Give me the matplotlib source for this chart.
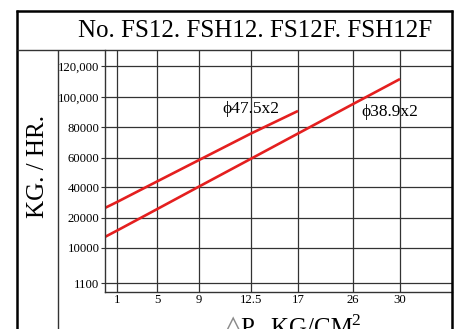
import numpy as np
import matplotlib
matplotlib.use("Agg")
import matplotlib.pyplot as plt
from matplotlib.lines import Line2D

# ---------------- data ----------------
dp_ticks = [1, 5, 9, 12.5, 17, 26, 30]
dp_labels = ["1", "5", "9", "12.5", "17", "26", "30"]
kg_ticks = [1100, 10000, 20000, 40000, 60000, 80000, 100000, 120000]
kg_labels = ["1100", "10000", "20000", "40000", "60000", "80000", "100,000", "120,000"]

dp_475 = [0, 1, 5, 9, 12.5, 17]
kg_475 = [26500, 30300, 43800, 58600, 75800, 90700]
dp_389 = [0, 1, 5, 9, 12.5, 17, 26, 30]
kg_389 = [13700, 15800, 25700, 40300, 59500, 75800, 95300, 111600]

title = "No. FS12. FSH12. FS12F. FSH12F"
ylabel = "KG. / HR."
series_names = ["\u03d547.5x2", "\u03d538.9x2"]

# ---------------- layout (pixel positions on the chart's graph paper) ----------------
dp_pos = [0, 12, 52, 94, 146, 193, 248, 295]
kg_pos = [0, 9, 44, 74, 105, 134, 165, 195, 226]

W, H, DPI = 457, 329, 100
SERIF = ["Liberation Serif", "DejaVu Serif"]
plt.rcParams["font.family"] = SERIF


def piecewise(xs, ys):
    xs = np.asarray(xs, float)
    ys = np.asarray(ys, float)

    def f(v):
        v = np.asarray(v, float)
        out = np.interp(v, xs, ys)
        lo = ys[0] + (v - xs[0]) * (ys[1] - ys[0]) / (xs[1] - xs[0])
        hi = ys[-1] + (v - xs[-1]) * (ys[-1] - ys[-2]) / (xs[-1] - xs[-2])
        out = np.where(v < xs[0], lo, out)
        out = np.where(v > xs[-1], hi, out)
        return out
    return f


x_vals = [0] + dp_ticks
y_vals = [0] + kg_ticks
fx, ix = piecewise(x_vals, dp_pos), piecewise(dp_pos, x_vals)
fy, iy = piecewise(y_vals, kg_pos), piecewise(kg_pos, y_vals)

fig = plt.figure(figsize=(W / DPI, H / DPI), dpi=DPI)
fig.patch.set_facecolor("white")

L, R, T, B = 105, 452, 50, 292
ax = fig.add_axes([L / W, (H - B) / H, (R - L) / W, (B - T) / H])
ax.set_xscale("function", functions=(fx, ix))
ax.set_yscale("function", functions=(fy, iy))
ax.set_xlim(0, float(ix(R - L)))
ax.set_ylim(0, float(iy(B - T)))

grid_c = "#333333"
ax.set_xticks(dp_ticks)
ax.set_xticklabels(dp_labels)
ax.set_yticks(kg_ticks)
ax.set_yticklabels(kg_labels)
ax.minorticks_off()
ax.grid(True, color=grid_c, lw=0.9)
ax.set_axisbelow(True)
ax.tick_params(axis="x", length=0, pad=1.5, labelsize=9.2)
ax.tick_params(axis="y", length=3, width=0.8, color=grid_c, pad=1, labelsize=9.2)
for s in ["top", "right"]:
    ax.spines[s].set_visible(False)
for s in ["left", "bottom"]:
    ax.spines[s].set_color(grid_c)
    ax.spines[s].set_linewidth(1.0)

red = "#e41f1f"
ax.plot(dp_475, kg_475, color=red, lw=1.9, solid_capstyle="butt")
ax.plot(dp_389, kg_389, color=red, lw=1.9, solid_capstyle="butt")
ax.text(12.5, 92000, series_names[0], ha="center", va="center", fontsize=12.5)
ax.text(29.1, 90000, series_names[1], ha="center", va="center", fontsize=12.5)


def fx_(x):
    return x / W


def fy_(y):
    return (H - y) / H


def hline(y, x0, x1, lw, c="black"):
    fig.add_artist(Line2D([fx_(x0), fx_(x1)], [fy_(y), fy_(y)], transform=fig.transFigure,
                          color=c, lw=lw, solid_capstyle="butt"))


def vline(x, y0, y1, lw, c="black"):
    fig.add_artist(Line2D([fx_(x), fx_(x)], [fy_(y0), fy_(y1)], transform=fig.transFigure,
                          color=c, lw=lw, solid_capstyle="butt"))


hline(11, 16, 453, 1.8)
vline(17, 10, 329, 1.8)
vline(452, 10, 329, 1.8)
hline(50, 17, 452, 1.0, grid_c)
vline(58, 50, 329, 1.0, grid_c)

fig.text(fx_(255), fy_(31), title, ha="center", va="center", fontsize=18)
fig.text(fx_(38), fy_(166), ylabel, ha="center", va="center", rotation=90, fontsize=18)
fig.text(fx_(222), fy_(335), "\u25b3", ha="left", va="baseline", fontsize=21,
         color="#8a8a8a", family=["DejaVu Sans"])
fig.text(fx_(241), fy_(335), "P.  KG/CM", ha="left", va="baseline", fontsize=18)
fig.text(fx_(351), fy_(325), "2", ha="left", va="baseline", fontsize=12.5)

fig.savefig("out.png", dpi=DPI, facecolor="white")
